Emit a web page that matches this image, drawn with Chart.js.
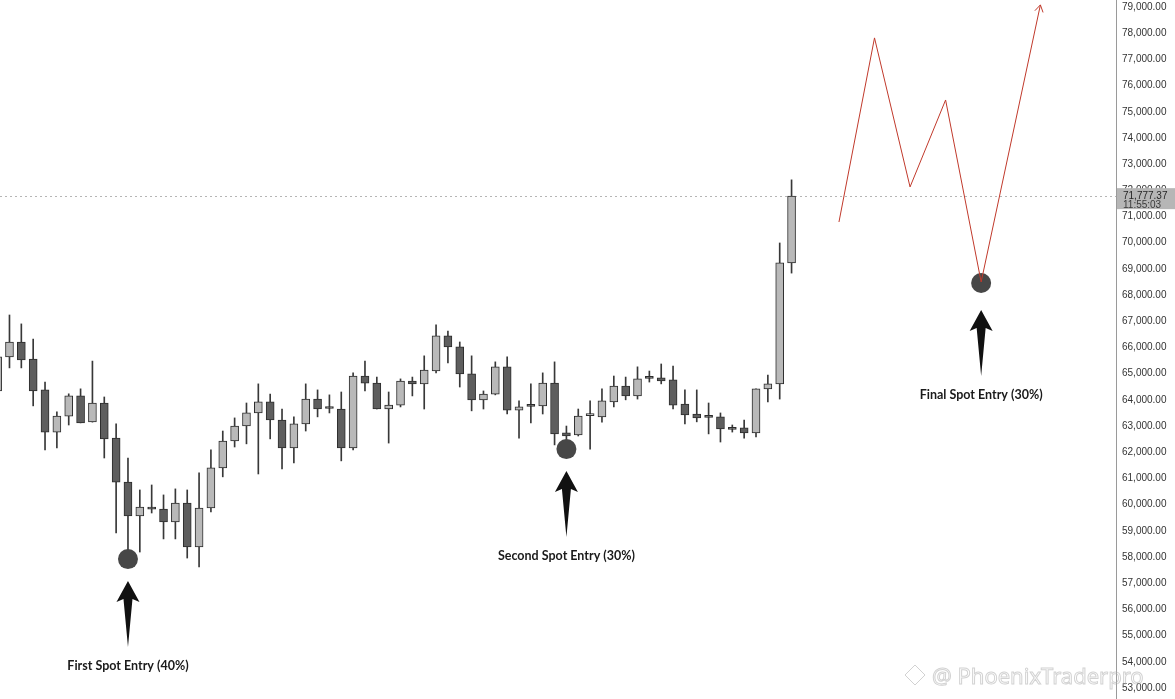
<!DOCTYPE html>
<html><head><meta charset="utf-8">
<script src="https://cdn.jsdelivr.net/npm/chart.js@4/dist/chart.umd.min.js"></script>
<style>html,body{margin:0;padding:0;background:#fff;overflow:hidden}#wrap{width:1175px;height:699px;position:relative}</style>
</head><body><div id="wrap"><canvas id="c" width="1175" height="699"></canvas></div>
<script>
// ---- data ----
const candleIdx = [-1,0,1,2,3,4,5,6,7,8,9,10,11,12,13,14,15,16,17,18,19,20,21,22,23,24,25,26,27,28,29,30,31,32,33,34,35,36,37,38,39,40,41,42,43,44,45,46,47,48,49,50,51,52,53,54,55,56,57,58,59,60,61,62,63,64,65,66];
const openP  = [64340,65640,66210,65560,64380,62770,63380,64150,63160,63880,62540,60860,59570,59910,59830,59340,60060,58380,59870,61400,62430,63000,63500,63920,63230,62160,63080,64030,63710,63650,62160,64910,64640,63650,63800,64720,64610,65100,66440,66020,64990,64000,64220,65260,63610,63790,63770,64640,62740,62660,63400,63350,63920,64530,64150,64850,64840,64760,63840,63460,63370,63350,62910,62930,62740,64420,64610,69230];
const highP  = [65700,67240,66900,66320,64680,63540,64230,64420,65480,64110,63080,61780,60560,60750,60370,60600,60560,61210,62090,62810,63310,63880,64610,64220,63650,63350,64610,64380,64190,64300,65030,65480,64870,64300,64800,64870,65680,66860,66630,66210,65680,64340,65450,65640,63960,64610,65030,65450,63000,63650,63960,64420,64910,64870,65260,65100,65370,65290,64380,64380,63880,63500,63040,63230,64420,64950,69990,72400];
const lowP   = [64190,65220,65220,63770,62090,62160,63040,63120,63150,61780,58920,58000,58190,59680,58690,58690,57960,57620,59720,61060,62200,62320,61170,62510,61360,61590,62810,63350,63500,61670,62090,64340,63650,62350,63730,64150,63650,65030,65410,64490,63580,63650,64190,63460,62540,63120,63460,62280,62350,62620,62120,63150,63730,64000,64030,64680,64610,63650,63080,63160,62700,62390,62770,62540,62580,63920,64030,68840];
const closeP = [65640,66210,65520,64340,62770,63380,64150,63120,63880,62510,60860,59570,59910,59830,59340,60060,58380,59870,61400,62430,63000,63500,63920,63230,62160,63080,64030,63650,63670,62160,64910,64640,63650,63800,64720,64610,65140,66440,66020,64990,64000,64220,65260,63610,63730,63750,64640,62700,62620,63380,63440,63960,64530,64150,64800,64820,64720,63800,63420,63310,63330,62890,62870,62740,64420,64610,69230,71777.37];

const projX = [70,73,76,79,82,87];
const projP = [70790,77820,72130,75450,68500,79080];

const entryX = [10,47,82];
const entryP = [57920,62120,68460];
const entryLabels = ['First Spot Entry (40%)','Second Spot Entry (30%)','Final Spot Entry (30%)'];

const yTickValues = [53000,54000,55000,56000,57000,58000,59000,60000,61000,62000,63000,64000,65000,66000,67000,68000,69000,70000,71000,72000,73000,74000,75000,76000,77000,78000,79000];

const lastPrice = 71777.37;
const lastTime = '11:55:03';
const yMin = 52578, yMax = 79267;
const xMin = -0.8, xMax = 93.38;

// style: extra pixel gap below each entry marker
const entryGap = [0, 0, 5];

// ---- build datasets ----
const wicks = candleIdx.map((x,i)=>({x:x, y:[lowP[i], highP[i]]}));
const bodies = candleIdx.map((x,i)=>({x:x, y:[openP[i], closeP[i]]}));
const bodyColors = candleIdx.map((x,i)=> closeP[i] >= openP[i] ? '#b9b9b9' : '#5e5e5e');
const proj = projX.map((x,i)=>({x:x, y:projP[i]}));
const entries = entryX.map((x,i)=>({x:x, y:entryP[i]}));

const fmt = v => Number(v).toLocaleString('en-US',{minimumFractionDigits:2, maximumFractionDigits:2});

const overlay = {
  id:'overlay',
  beforeDatasetsDraw(chart){
    const {ctx, chartArea:a, scales:{y}} = chart;
    const py = Math.round(y.getPixelForValue(lastPrice)) + 0.5;
    ctx.save();
    ctx.strokeStyle = '#b5b5b5'; ctx.lineWidth = 1; ctx.setLineDash([2,3]);
    ctx.beginPath(); ctx.moveTo(a.left, py); ctx.lineTo(a.right, py); ctx.stroke();
    ctx.restore();
  },
  afterDatasetsDraw(chart){
    const {ctx, scales:{x,y}} = chart;
    ctx.save();
    // projection arrowhead
    const n = projX.length;
    const x1 = x.getPixelForValue(projX[n-2]), y1 = y.getPixelForValue(projP[n-2]);
    const x2 = x.getPixelForValue(projX[n-1]), y2 = y.getPixelForValue(projP[n-1]);
    const ang = Math.atan2(y2-y1, x2-x1);
    ctx.strokeStyle = '#c0392b'; ctx.lineWidth = 1;
    ctx.beginPath();
    ctx.moveTo(x2 - 8*Math.cos(ang-0.55), y2 - 8*Math.sin(ang-0.55));
    ctx.lineTo(x2, y2);
    ctx.lineTo(x2 - 8*Math.cos(ang+0.55), y2 - 8*Math.sin(ang+0.55));
    ctx.stroke();
    // entry arrows + labels
    entryX.forEach((ex,i)=>{
      const cx = x.getPixelForValue(ex), cy = y.getPixelForValue(entryP[i]) + entryGap[i];
      const t = cy + 22, b = cy + 88;
      ctx.fillStyle = '#111';
      ctx.beginPath();
      ctx.moveTo(cx, t);
      ctx.lineTo(cx + 11.5, t + 21);
      ctx.lineTo(cx + 4.5, t + 18);
      ctx.lineTo(cx, b);
      ctx.lineTo(cx - 4.5, t + 18);
      ctx.lineTo(cx - 11.5, t + 21);
      ctx.closePath();
      ctx.fill();
      ctx.fillStyle = '#1a1a1a';
      ctx.font = 'bold 12.5px Lato';
      ctx.textAlign = 'center'; ctx.textBaseline = 'middle';
      ctx.fillText(entryLabels[i], cx, cy + 107);
    });
    ctx.restore();
  },
  afterDraw(chart){
    const {ctx, chartArea:a, scales:{y}} = chart;
    const py = y.getPixelForValue(lastPrice);
    ctx.save();
    ctx.fillStyle = '#b6b6b6';
    ctx.fillRect(a.right + 1, py - 8, chart.width - a.right - 1, 21);
    ctx.fillStyle = '#262626';
    ctx.font = '10px "Liberation Sans"';
    ctx.textAlign = 'left'; ctx.textBaseline = 'middle';
    ctx.fillText(fmt(lastPrice), a.right + 7, py);
    ctx.fillStyle = '#3a3a3a';
    ctx.fillText(lastTime, a.right + 7, py + 9.5);
    // watermark
    ctx.strokeStyle = 'rgba(180,180,180,0.6)';
    ctx.lineWidth = 1;
    ctx.font = '22px "Noto Sans"';
    ctx.textBaseline = 'alphabetic';
    ctx.strokeText('@ PhoenixTraderpro', 932, 684);
    ctx.beginPath();
    ctx.moveTo(915, 665); ctx.lineTo(925, 675); ctx.lineTo(915, 685); ctx.lineTo(905, 675); ctx.closePath();
    ctx.stroke();
    ctx.restore();
  }
};

new Chart(document.getElementById('c'), {
  data:{datasets:[
    {type:'bar', data:wicks, backgroundColor:'#383838', borderWidth:0, barThickness:1, grouped:false, order:4},
    {type:'bar', data:bodies, backgroundColor:bodyColors, borderColor:'#2c2c2c', borderWidth:1, borderSkipped:false, barThickness:8, minBarLength:2, grouped:false, order:3},
    {type:'scatter', data:entries, pointRadius:10, pointHoverRadius:10, backgroundColor:'#474747', borderColor:'#474747', borderWidth:0, order:2},
    {type:'line', data:proj, borderColor:'#c0392b', borderWidth:1, pointRadius:0, tension:0, fill:false, order:1}
  ]},
  options:{
    responsive:false, animation:false,
    layout:{padding:0, autoPadding:false},
    plugins:{legend:{display:false}, tooltip:{enabled:false}},
    scales:{
      x:{type:'linear', min:xMin, max:xMax, display:false, offset:false},
      y:{type:'linear', position:'right', min:yMin, max:yMax,
         grid:{display:false, drawTicks:false},
         border:{display:true, color:'#9a9a9a', width:1},
         ticks:{padding:6, color:'#333', font:{family:'"Liberation Sans"', size:10}, callback:v=>fmt(v)},
         afterBuildTicks(s){ s.ticks = yTickValues.map(v=>({value:v})); },
         afterFit(s){ s.width = 59; s.paddingTop = 0; s.paddingBottom = 0; }
      }
    }
  },
  plugins:[overlay]
});
</script>
</body></html>
